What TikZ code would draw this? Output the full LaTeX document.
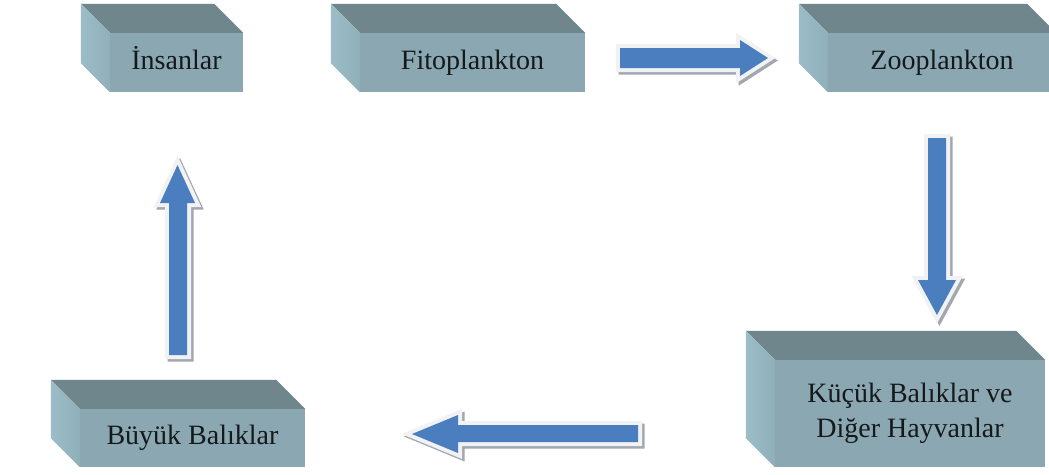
\documentclass[tikz,border=0pt]{standalone}
\usepackage{fontspec}
\setmainfont{Liberation Serif}
\usetikzlibrary{calc}
\definecolor{topc}{HTML}{6F878C}
\definecolor{frontc}{HTML}{8BA8B2}
\definecolor{leftc}{HTML}{9CBDC7}
\definecolor{leftd}{HTML}{8FAFB9}
\definecolor{textc}{HTML}{14191C}
\definecolor{arrblue}{HTML}{4A7EBE}
\definecolor{rimc}{HTML}{F1F2F4}
\definecolor{shadc}{HTML}{A3A7B0}
\newcommand{\cubefaces}[1]{%
  \fill[topc] (#1.north west) -- ++(-29,-29) -- ($(#1.north east)+(-29,-29)$) -- (#1.north east) -- cycle;
  \shade[left color=leftc, right color=leftd] (#1.north west) -- ++(-29,-29) -- ($(#1.south west)+(-29,-29)$) -- (#1.south west) -- cycle;
}
\begin{document}
\begin{tikzpicture}[x=1pt,y=-1pt,
  cubefront/.style={rectangle, fill=frontc, inner sep=0pt, text=textc,
    font=\fontsize{28}{35}\selectfont, align=center},
  oneline/.style={text height=19pt, text depth=6pt},
  arrshadow/.style={fill=shadc, draw=shadc, line width=8pt, line join=miter},
  arrrim/.style={fill=rimc, draw=rimc, line width=8pt, line join=miter},
  arrbody/.style={fill=arrblue}]
\useasboundingbox (0,0) rectangle (1049,474);
\clip (0,0) rectangle (1049,474);
\fill[white] (0,0) rectangle (1049,474);

% boxes
\node[cubefront, oneline, minimum width=133pt, minimum height=59pt] (insan) at (176.5,62.5) {İnsanlar};
\node[cubefront, oneline, minimum width=225pt, minimum height=59pt] (fito) at (472.5,62.5) {Fitoplankton};
\node[cubefront, oneline, minimum width=228pt, minimum height=59pt] (zoo) at (942,62.5) {Zooplankton};
\node[cubefront, minimum width=270pt, minimum height=107pt] (kucuk) at (910,413.5) {Küçük Balıklar ve\\Diğer Hayvanlar};
\node[cubefront, oneline, minimum width=225pt, minimum height=58pt] (buyuk) at (192.5,438) {Büyük Balıklar};
\cubefaces{insan}
\cubefaces{fito}
\cubefaces{zoo}
\cubefaces{kucuk}
\cubefaces{buyuk}

% block arrows
\begin{scope}[shift={(2.5,2.5)}]
  \draw[arrshadow] (620,48)--(740,48)--(740,40)--(768,58)--(740,76)--(740,68)--(620,68)--cycle;
  \draw[arrshadow] (928,138)--(946,138)--(946,280)--(956,280)--(937,315)--(918,280)--(928,280)--cycle;
  \draw[arrshadow] (638,425)--(458,425)--(458,415)--(412,434)--(458,453)--(458,442)--(638,442)--cycle;
  \draw[arrshadow] (169,355)--(169,203)--(160,203)--(177.5,165)--(195,203)--(187,203)--(187,355)--cycle;
\end{scope}
\draw[arrrim] (620,48)--(740,48)--(740,40)--(768,58)--(740,76)--(740,68)--(620,68)--cycle;
\draw[arrrim] (928,138)--(946,138)--(946,280)--(956,280)--(937,315)--(918,280)--(928,280)--cycle;
\draw[arrrim] (638,425)--(458,425)--(458,415)--(412,434)--(458,453)--(458,442)--(638,442)--cycle;
\draw[arrrim] (169,355)--(169,203)--(160,203)--(177.5,165)--(195,203)--(187,203)--(187,355)--cycle;
\fill[arrbody] (620,48)--(740,48)--(740,40)--(768,58)--(740,76)--(740,68)--(620,68)--cycle;
\fill[arrbody] (928,138)--(946,138)--(946,280)--(956,280)--(937,315)--(918,280)--(928,280)--cycle;
\fill[arrbody] (638,425)--(458,425)--(458,415)--(412,434)--(458,453)--(458,442)--(638,442)--cycle;
\fill[arrbody] (169,355)--(169,203)--(160,203)--(177.5,165)--(195,203)--(187,203)--(187,355)--cycle;
\end{tikzpicture}
\end{document}
